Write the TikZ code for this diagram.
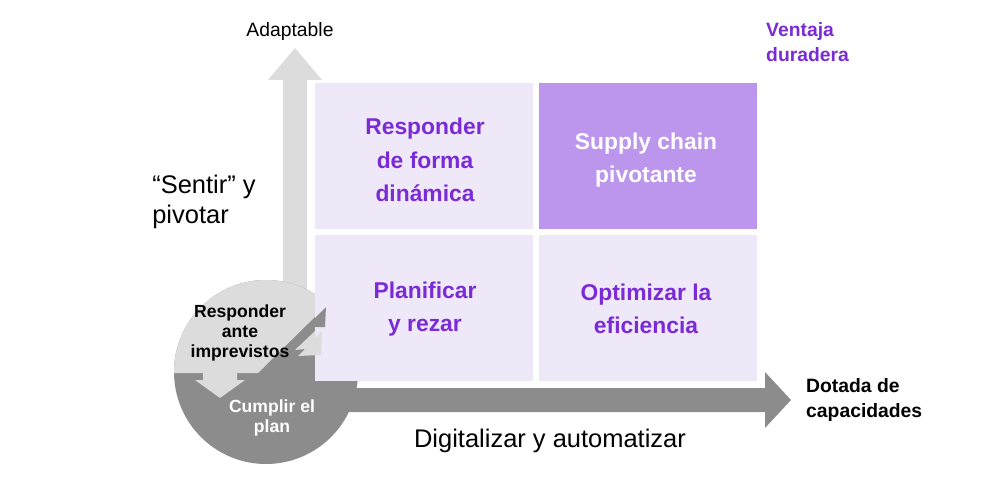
\documentclass[tikz,border=0pt]{standalone}
\usepackage{fontspec}
\setmainfont{Liberation Sans}
\begin{document}
\begin{tikzpicture}[x=0.02cm,y=-0.02cm,
 q/.style={fill=qlight,draw=none},
 qt/.style={font=\bfseries\fontsize{13}{19}\selectfont,align=center,text=qpurp},
 ax/.style={font=\fontsize{14.5}{17}\selectfont,align=center}]
\definecolor{qlight}{HTML}{EFE8F8}
\definecolor{qdark}{HTML}{BC95EC}
\definecolor{qpurp}{HTML}{7A2BD6}
\definecolor{lg}{HTML}{DCDCDC}
\definecolor{dg}{HTML}{8C8C8C}
\useasboundingbox (0,0) rectangle (1000,500);
% vertical arrow
\fill[lg] (283,320) -- (283,80) -- (268,80) -- (295,48) -- (322,80) -- (307,80) -- (307,320) -- cycle;
% horizontal arrow
\fill[dg] (300,388) -- (765,388) -- (765,372) -- (791,400) -- (765,428) -- (765,412) -- (300,412) -- cycle;
% circle
\begin{scope}
\clip (266,372) circle (92);
\fill[dg] (165,270) rectangle (370,470);
\fill[lg] (165,270) -- (370,270) -- (325,307) -- (258,373) -- (165,373) -- cycle;
\fill[lg] (203,370) -- (237,370) -- (237,380) -- (245,380) -- (220,398) -- (195,380) -- (203,380) -- cycle;
\end{scope}
% quadrants
\fill[q] (315,83) rectangle (533,229);
\fill[qdark] (539,83) rectangle (757,229);
\fill[q] (315,235) rectangle (533,381);
\fill[q] (539,235) rectangle (757,381);
% diagonal arrowheads over the quadrant edge
\fill[dg] (306,330) -- (315,322) -- (315,318) -- (326,307) -- (325,327) -- (315,327) -- cycle;
\fill[lg] (295,350) -- (315,331) -- (315,338) -- (322,331) -- (321,355) -- (298,356) -- (305,349) -- cycle;
\node[font=\bfseries\fontsize{10}{11.5}\selectfont,align=center] (ri) at (240,333) {Responder\\ante\\imprevistos};
\node[font=\bfseries\fontsize{10}{11.5}\selectfont,align=center,text=white] (cp) at (272,418) {Cumplir el\\plan};
% quadrant labels
\node[qt] (q1) at (425,160) {Responder\\de forma\\dinámica};
\node[qt,text=white] (q2) at (646,160) {Supply chain\\pivotante};
\node[qt] (q3) at (425,309) {Planificar\\y rezar};
\node[qt] (q4) at (646,309) {Optimizar la\\eficiencia};
% axis labels
\node[font=\fontsize{11}{14}\selectfont] (ad) at (290,32) {Adaptable};
\node[ax,align=left] (sp) at (204,202) {“Sentir” y\\pivotar};
\node[ax] (da) at (550,441) {Digitalizar y automatizar};
\node[font=\bfseries\fontsize{11}{14}\selectfont,align=left,anchor=west] (dc) at (800,400) {Dotada de\\capacidades};
\node[font=\bfseries\fontsize{11}{14}\selectfont,align=left,anchor=west,text=qpurp] (vd) at (760,42) {Ventaja\\duradera};
\end{tikzpicture}
\end{document}
